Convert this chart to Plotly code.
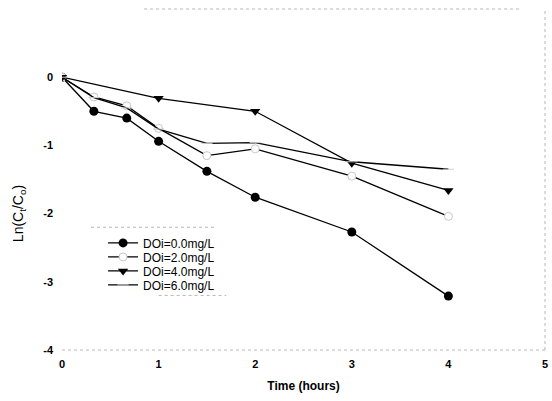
import plotly.graph_objects as go

# Data
time_a = [0, 0.33, 0.67, 1, 1.5, 2, 3, 4]
doi_00 = [0, -0.50, -0.60, -0.94, -1.38, -1.76, -2.27, -3.21]
doi_20 = [0, -0.29, -0.42, -0.75, -1.15, -1.05, -1.45, -2.04]
time_b = [0, 1, 2, 3, 4]
doi_40 = [0, -0.31, -0.50, -1.26, -1.66]
doi_60 = [0, -0.30, -0.45, -0.76, -0.97, -0.96, -1.24, -1.35]

names = ["DOi=0.0mg/L", "DOi=2.0mg/L", "DOi=4.0mg/L", "DOi=6.0mg/L"]
x_ticks = [0, 1, 2, 3, 4, 5]
y_ticks = [0, -1, -2, -3, -4]

fig = go.Figure()
fig.add_trace(go.Scatter(x=time_a, y=doi_00, name=names[0], mode="lines+markers",
                         legend="legend",
                         line=dict(color="black", width=1.3),
                         marker=dict(symbol="circle", size=9, color="black")))
fig.add_trace(go.Scatter(x=time_a, y=doi_20, name=names[1], mode="lines+markers",
                         legend="legend2",
                         line=dict(color="black", width=1.3),
                         marker=dict(symbol="circle", size=8, color="white",
                                     line=dict(color="#c8c8c8", width=1))))
fig.add_trace(go.Scatter(x=time_b, y=doi_40, name=names[2], mode="lines+markers",
                         legend="legend3",
                         line=dict(color="black", width=1.3),
                         marker=dict(symbol="triangle-down", size=9, color="black")))
fig.add_trace(go.Scatter(x=time_a, y=doi_60, name=names[3], mode="lines+markers",
                         legend="legend4",
                         line=dict(color="black", width=1.3),
                         marker=dict(symbol="line-ew", size=8, color="white",
                                     line=dict(color="#d0d0d0", width=1))))

# faint dotted frame (top, bottom, right) and legend box
frame = dict(color="#b8b8b8", width=1, dash="dot")
fig.add_shape(type="line", xref="paper", yref="paper", x0=0, x1=1, y0=0, y1=0, line=frame)
fig.add_shape(type="line", xref="paper", yref="paper", x0=0.17, x1=0.95, y0=1, y1=1, line=frame)
fig.add_shape(type="line", xref="paper", yref="paper", x0=1, x1=1, y0=0, y1=1, line=frame)
fig.add_shape(type="line", xref="paper", yref="paper", x0=0.06, x1=0.32, y0=0.36, y1=0.36, line=frame)
fig.add_shape(type="line", xref="paper", yref="paper", x0=0.20, x1=0.34, y0=0.16, y1=0.16, line=frame)

leg_rows = [0.314, 0.273, 0.232, 0.191]
leg_common = dict(x=0.085, xanchor="left", yanchor="middle", bgcolor="rgba(0,0,0,0)",
                  font=dict(size=12), itemwidth=30)

fig.update_layout(
    width=552, height=401,
    margin=dict(l=62, r=4, t=9, b=51),
    paper_bgcolor="white", plot_bgcolor="white",
    font=dict(family="Liberation Sans, Arial, sans-serif", color="black", size=11),
    showlegend=True,
    legend=dict(y=leg_rows[0], **leg_common),
    legend2=dict(y=leg_rows[1], **leg_common),
    legend3=dict(y=leg_rows[2], **leg_common),
    legend4=dict(y=leg_rows[3], **leg_common),
    xaxis=dict(range=[0, 5], tickvals=x_ticks, ticktext=[str(v) for v in x_ticks],
               showgrid=False, zeroline=False, showline=False, ticks="",
               ticklabeloverflow="allow", ticklabelstandoff=6,
               tickfont=dict(size=11, family="Liberation Sans", weight="bold"),
               title=dict(text="<b>Time (hours)</b>", font=dict(size=12), standoff=12)),
    yaxis=dict(range=[-4, 1], tickvals=y_ticks, ticktext=[str(v) for v in y_ticks],
               showgrid=False, zeroline=False, showline=False, ticks="",
               ticklabelstandoff=8,
               tickfont=dict(size=11, family="Liberation Sans", weight="bold")),
    annotations=[dict(text="Ln(C<sub>t</sub>/C<sub>o</sub>)", textangle=-90,
                      xref="paper", yref="paper", x=-0.09, y=0.40,
                      xanchor="center", yanchor="middle", showarrow=False,
                      font=dict(size=14))],
)

fig.write_html("out.html", config={"displayModeBar": False},
               post_script="document.body.style.margin='0';")
